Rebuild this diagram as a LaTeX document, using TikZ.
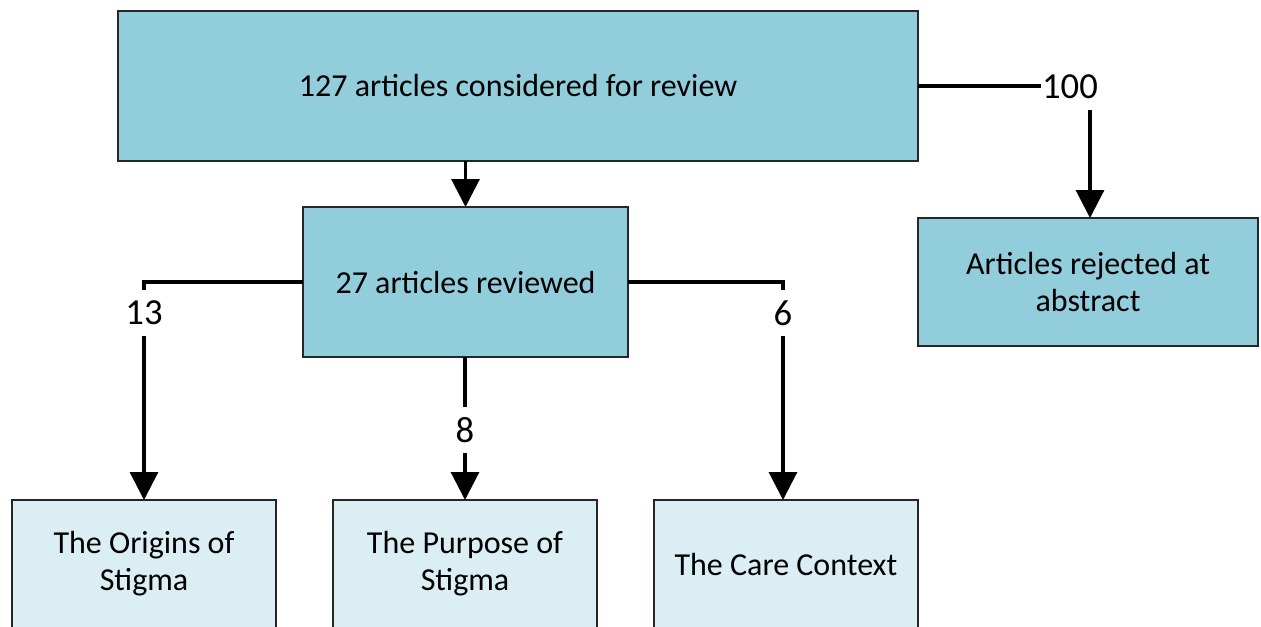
\documentclass[tikz,border=0pt]{standalone}
\usepackage{fontspec}
\setmainfont{Carlito}
\usetikzlibrary{arrows.meta}
\definecolor{darkbox}{HTML}{92CDDC}
\definecolor{lightbox}{HTML}{DAEEF3}
\definecolor{edge}{HTML}{262626}
\tikzset{
  box/.style={draw=edge, line width=1.1pt, inner sep=2pt, outer sep=0pt, align=center, font=\fontsize{24}{27.75}\selectfont},
  dbox/.style={box, fill=darkbox},
  lbox/.style={box, fill=lightbox},
  conn/.style={line width=2.3pt, -{Triangle[length=21pt,width=21pt]}},
  cnt/.style={fill=white, inner xsep=1pt, inner ysep=0pt, minimum height=34pt, font=\fontsize{27.5}{30}\selectfont}
}
\begin{document}
\begin{tikzpicture}[x=0.75pt,y=-0.75pt]
\useasboundingbox (0,0) rectangle (1261,626);
\clip (0,0) rectangle (1261,626);
\node[dbox, minimum width=600pt, minimum height=112.5pt] (top) at (518,86) {127 articles considered for review};
\node[dbox, minimum width=243.75pt, minimum height=112.5pt] (mid) at (465.5,282) {27 articles reviewed};
\node[dbox, minimum width=255pt, minimum height=96pt] (rej) at (1088,282) {Articles rejected at\\abstract};
\node[lbox, minimum width=198pt, minimum height=96pt] (ori) at (144,564) {The Origins of\\Stigma};
\node[lbox, minimum width=198pt, minimum height=96pt] (pur) at (465,564) {The Purpose of\\Stigma};
\node[lbox, minimum width=198pt, minimum height=96pt] (care) at (786,564) {The Care Context};
\coordinate (c100) at (1090,86);
\coordinate (c13) at (144,282);
\coordinate (c6) at (783,282);
\draw[conn] (top.south -| mid.north) -- (mid.north);
\draw[conn] (top.east |- c100) -- (c100) -- (c100 |- rej.north);
\draw[conn] (mid.west |- c13) -- (c13) -- (c13 |- ori.north);
\draw[conn] (mid.east |- c6) -- (c6) -- (c6 |- care.north);
\draw[conn] (mid.south -| pur.north) -- (pur.north);
\node[cnt] (l100) at (1070,87) {100};
\node[cnt] (l13) at (144,313) {13};
\node[cnt] (l6) at (783,313) {6};
\node[cnt] (l8) at (465,430) {8};
\end{tikzpicture}
\end{document}
